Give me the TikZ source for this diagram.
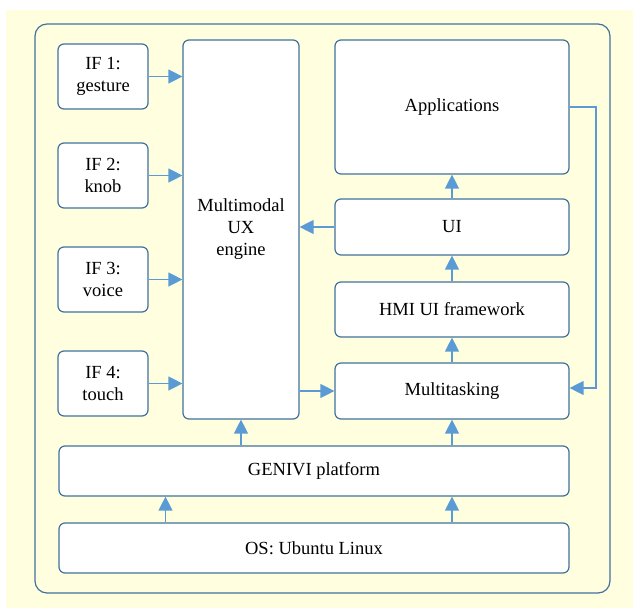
\documentclass[tikz,border=0pt]{standalone}
\usepackage{fontspec}
\setmainfont{Liberation Serif}
\usetikzlibrary{arrows.meta}
\definecolor{bgyellow}{HTML}{FFFFE0}
\definecolor{boxline}{HTML}{41719C}
\definecolor{arrowblue}{HTML}{5B9BD5}
\tikzset{
  blk/.style={draw=boxline, line width=1.2pt, fill=white, rounded corners=6pt, align=center, font=\fontsize{18.5}{22}\selectfont, inner sep=0pt},
  arr/.style={draw=arrowblue, line width=1.3pt, -{Triangle[length=14pt,width=14pt]}}
}
\begin{document}
\begin{tikzpicture}[x=1pt,y=-1pt]
\useasboundingbox (0,0) rectangle (633,608);
\fill[bgyellow] (6,10) rectangle (633,608);
\draw[boxline, line width=1.2pt, rounded corners=12pt] (35,24) rectangle (610,593);
% IF boxes
\node[blk, minimum width=90pt, minimum height=65pt] (if1) at (103,76.5) {IF 1:\\gesture};
\node[blk, minimum width=90pt, minimum height=65pt] (if2) at (103,175.5) {IF 2:\\knob};
\node[blk, minimum width=90pt, minimum height=65pt] (if3) at (103,279.5) {IF 3:\\voice};
\node[blk, minimum width=90pt, minimum height=65pt] (if4) at (103,383.5) {IF 4:\\touch};
% Multimodal
\node[blk, minimum width=116pt, minimum height=379pt] (mm) at (241,229.5) {Multimodal\\UX\\engine};
% right column
\node[blk, minimum width=234pt, minimum height=134pt] (app) at (452,107) {Applications};
\node[blk, minimum width=234pt, minimum height=56pt] (ui) at (452,227) {UI};
\node[blk, minimum width=234pt, minimum height=55pt] (hmi) at (452,309.5) {HMI UI framework};
\node[blk, minimum width=234pt, minimum height=56pt] (mt) at (452,391) {Multitasking};
% bottom
\node[blk, minimum width=510pt, minimum height=50pt] (gen) at (314,471) {GENIVI platform};
\node[blk, minimum width=510pt, minimum height=50pt] (os) at (314,548) {OS: Ubuntu Linux};
% arrows
\draw[arr] (if1.east) -- (if1.east -| mm.west);
\draw[arr] (if2.east) -- (if2.east -| mm.west);
\draw[arr] (if3.east) -- (if3.east -| mm.west);
\draw[arr] (if4.east) -- (if4.east -| mm.west);
\draw[arr] (ui.west) -- (ui.west -| mm.east);
\draw[arr] (mm.east |- mt.west) -- (mt.west);
\draw[arr] (ui.north) -- (app.south);
\draw[arr] (hmi.north) -- (ui.south);
\draw[arr] (mt.north) -- (hmi.south);
\draw[arr] (gen.north -| mm.south) -- (mm.south);
\draw[arr] (gen.north -| mt.south) -- (mt.south);
\coordinate (osl) at (165.5,0);
\draw[arr] (os.north -| osl) -- (gen.south -| osl);
\draw[arr] (os.north -| mt.south) -- (gen.south -| mt.south);
\coordinate (ret) at (596,0);
\draw[arr] (app.east) -- (app.east -| ret) -- ([yshift=3pt]mt.east -| ret) -- ([yshift=3pt]mt.east);
\end{tikzpicture}
\end{document}
